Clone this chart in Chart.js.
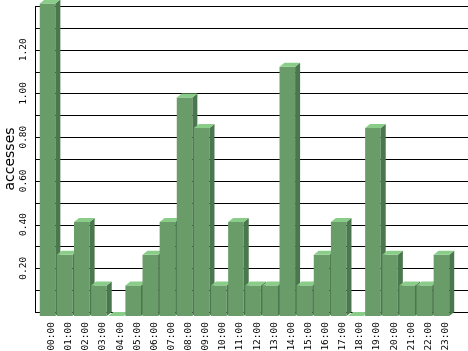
<!DOCTYPE html>
<html>
<head>
<meta charset="utf-8">
<script src="https://cdn.jsdelivr.net/npm/chart.js@4.4.1/dist/chart.umd.min.js"></script>
<style>
  html, body { margin: 0; padding: 0; background: #fff; }
</style>
</head>
<body>
<canvas id="chartHoras" width="468" height="351"></canvas>
<script>
const horas = ['00:00', '01:00', '02:00', '03:00', '04:00', '05:00', '06:00', '07:00',
    '08:00', '09:00', '10:00', '11:00', '12:00', '13:00', '14:00', '15:00',
    '16:00', '17:00', '18:00', '19:00', '20:00', '21:00', '22:00', '23:00'];
const accesos = [1.43, 0.28, 0.43, 0.14, 0, 0.14, 0.28, 0.43,
    1.0, 0.86, 0.14, 0.43, 0.14, 0.14, 1.14, 0.14,
    0.28, 0.43, 0, 0.86, 0.28, 0.14, 0.14, 0.28];
const etiquetasY = [0.2, 0.4, 0.6, 0.8, 1.0, 1.2];
const yMax = 1.4;
const yPaso = 0.1;

// colores de las caras del cubo
const colorFrente = '#699c69';
const colorLado = '#4b774e';
const colorTapa = '#89cd89';
const fondoX = 5;   // profundidad hacia la derecha
const fondoY = 4;   // profundidad hacia arriba

const plugin3D = {
    id: 'barras3d',
    beforeDatasetsDraw(chart) {
        const ctx = chart.ctx;
        const y = chart.scales.y;
        const area = chart.chartArea;
        ctx.save();
        ctx.strokeStyle = '#000';
        ctx.lineWidth = 1;
        y.ticks.forEach(t => {
            const py = Math.round(y.getPixelForValue(t.value)) + 0.5;
            ctx.beginPath();
            ctx.moveTo(35, py);
            ctx.lineTo(chart.width, py);
            ctx.stroke();
        });
        ctx.beginPath();
        ctx.moveTo(35.5, Math.round(y.getPixelForValue(yMax)));
        ctx.lineTo(35.5, Math.round(y.getPixelForValue(0)) + 1);
        ctx.stroke();

        // etiquetas del eje y, giradas
        ctx.fillStyle = '#000';
        ctx.font = '9.5px "DejaVu Sans Mono"';
        ctx.textAlign = 'center';
        ctx.textBaseline = 'middle';
        etiquetasY.forEach(v => {
            const py = y.getPixelForValue(v);
            ctx.save();
            ctx.translate(23.5, py);
            ctx.rotate(-Math.PI / 2);
            ctx.fillText(v.toFixed(2), 0, 0);
            ctx.restore();
        });
        ctx.restore();
    },
    afterDatasetsDraw(chart) {
        const ctx = chart.ctx;
        const meta = chart.getDatasetMeta(0);
        ctx.save();
        meta.data.forEach(bar => {
            const p = bar.getProps(['x', 'y', 'base', 'width'], true);
            const izq = p.x - p.width / 2;
            const der = p.x + p.width / 2;
            const arriba = p.y;
            const abajo = p.base;

            // frente
            ctx.fillStyle = colorFrente;
            ctx.fillRect(izq - fondoX, arriba + fondoY, der - izq, abajo - arriba);

            // lado
            ctx.fillStyle = colorLado;
            ctx.beginPath();
            ctx.moveTo(der - fondoX, arriba + fondoY);
            ctx.lineTo(der, arriba);
            ctx.lineTo(der, abajo);
            ctx.lineTo(der - fondoX, abajo + fondoY);
            ctx.closePath();
            ctx.fill();

            // tapa
            ctx.fillStyle = colorTapa;
            ctx.beginPath();
            ctx.moveTo(izq - fondoX, arriba + fondoY);
            ctx.lineTo(izq, arriba);
            ctx.lineTo(der, arriba);
            ctx.lineTo(der - fondoX, arriba + fondoY);
            ctx.closePath();
            ctx.fill();
        });
        ctx.restore();
    }
};

const chartHoras = new Chart(document.getElementById('chartHoras'), {
    type: 'bar',
    data: {
        labels: horas,
        datasets: [{
            label: 'accesses',
            data: accesos,
            backgroundColor: 'rgba(0,0,0,0)',
            borderWidth: 0,
            barPercentage: 0.91,
            categoryPercentage: 1
        }]
    },
    options: {
        responsive: false,
        animation: false,
        devicePixelRatio: 1,
        layout: { padding: { top: 6, right: 8, left: 0, bottom: 0 } },
        plugins: {
            legend: { display: false },
            tooltip: { enabled: false }
        },
        scales: {
            x: {
                grid: { display: false, drawTicks: false },
                border: { display: false },
                ticks: {
                    color: '#000',
                    font: { family: 'DejaVu Sans Mono', size: 9.5 },
                    minRotation: 90,
                    maxRotation: 90,
                    padding: 10,
                    labelOffset: -1,
                    autoSkip: false
                },
                afterFit(scale) { scale.height = 39; }
            },
            y: {
                min: 0,
                max: yMax,
                grid: { display: false, drawTicks: false },
                border: { display: false },
                ticks: { display: false, stepSize: yPaso },
                title: {
                    display: true,
                    text: 'accesses',
                    color: '#000',
                    font: { family: 'DejaVu Sans', size: 14, weight: 'normal' },
                    padding: { top: 2, bottom: 0 }
                },
                afterFit(scale) { scale.width = 44; }
            }
        }
    },
    plugins: [plugin3D]
});
</script>
</body>
</html>
